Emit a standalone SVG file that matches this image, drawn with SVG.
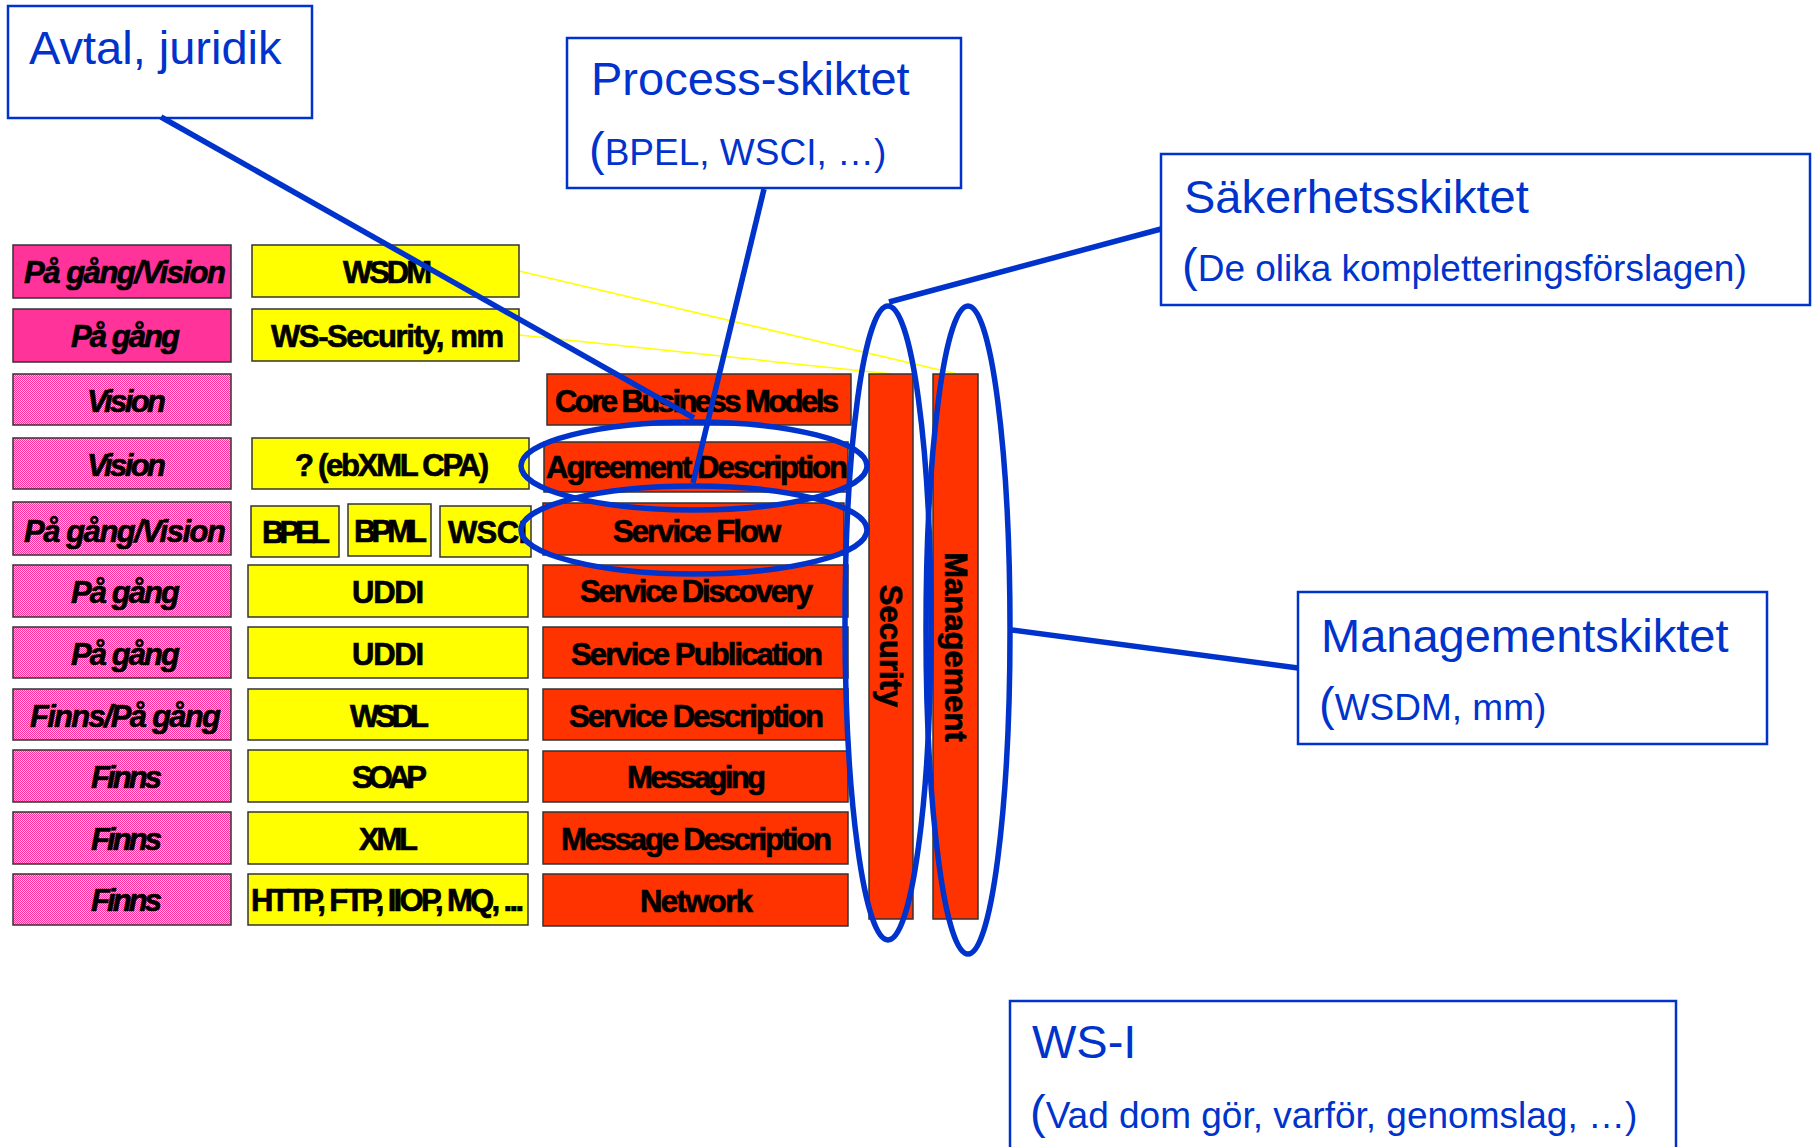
<svg xmlns="http://www.w3.org/2000/svg" width="1812" height="1147" viewBox="0 0 1812 1147">
<defs>
<pattern id="dots" width="2" height="2" patternUnits="userSpaceOnUse">
<rect width="2" height="2" fill="#FFB8DC"/>
<rect width="1" height="1" fill="#FF3399"/>
<rect x="1" y="1" width="1" height="1" fill="#FF3399"/>
</pattern>
<style>
.pk{fill:#FF3399;stroke:#333;stroke-width:1.5}
.pd{fill:url(#dots);stroke:#333;stroke-width:1.5}
.ye{fill:#FFFF00;stroke:#333;stroke-width:1.5}
.rd{fill:#FF3300;stroke:#333;stroke-width:1.5}
.lb{font-family:"Liberation Sans",Arial,sans-serif;font-weight:bold;font-size:31px;fill:#000;stroke:#000;stroke-width:0.7}
.it{font-style:italic}
.bb{fill:#fff;stroke:#0033CC;stroke-width:2.5}
.bt{font-family:"Liberation Sans",Arial,sans-serif;font-size:47px;fill:#0033CC}
.bs{font-size:37px}
.bl{fill:none;stroke:#0033CC;stroke-width:5.5}
.yl{fill:none;stroke:#FFFF00;stroke-width:1.5}
</style>
</defs>
<rect width="1812" height="1147" fill="#fff"/>

<g id="yellow-lines">
<path class="yl" d="M519,271 L957,374"/>
<path class="yl" d="M519,335 L892,374"/>
</g>

<g id="status">
<g id="s1"><rect class="pk" x="13" y="245" width="218" height="53"/><text class="lb it" x="24" y="283" textLength="202" lengthAdjust="spacing">På gång/Vision</text></g>
<g id="s2"><rect class="pk" x="13" y="309" width="218" height="53"/><text class="lb it" x="71" y="347" textLength="109" lengthAdjust="spacing">På gång</text></g>
<g id="s3"><rect class="pd" x="13" y="374" width="218" height="51"/><text class="lb it" x="87" y="412" textLength="79" lengthAdjust="spacing">Vision</text></g>
<g id="s4"><rect class="pd" x="13" y="438" width="218" height="51"/><text class="lb it" x="87" y="476" textLength="79" lengthAdjust="spacing">Vision</text></g>
<g id="s5"><rect class="pd" x="13" y="502" width="218" height="53"/><text class="lb it" x="24" y="542" textLength="202" lengthAdjust="spacing">På gång/Vision</text></g>
<g id="s6"><rect class="pd" x="13" y="565" width="218" height="52"/><text class="lb it" x="71" y="603" textLength="109" lengthAdjust="spacing">På gång</text></g>
<g id="s7"><rect class="pd" x="13" y="627" width="218" height="51"/><text class="lb it" x="71" y="665" textLength="109" lengthAdjust="spacing">På gång</text></g>
<g id="s8"><rect class="pd" x="13" y="689" width="218" height="51"/><text class="lb it" x="30" y="727" textLength="191" lengthAdjust="spacing">Finns/På gång</text></g>
<g id="s9"><rect class="pd" x="13" y="750" width="218" height="52"/><text class="lb it" x="91" y="788" textLength="71" lengthAdjust="spacing">Finns</text></g>
<g id="s10"><rect class="pd" x="13" y="812" width="218" height="52"/><text class="lb it" x="91" y="850" textLength="71" lengthAdjust="spacing">Finns</text></g>
<g id="s11"><rect class="pd" x="13" y="874" width="218" height="51"/><text class="lb it" x="91" y="911" textLength="71" lengthAdjust="spacing">Finns</text></g>
</g>

<g id="standards">
<g id="wsdm"><rect class="ye" x="252" y="245" width="267" height="52"/><text class="lb" x="343" y="283" textLength="89" lengthAdjust="spacing">WSDM</text></g>
<g id="wssec"><rect class="ye" x="252" y="309" width="267" height="52"/><text class="lb" x="271" y="347" textLength="233" lengthAdjust="spacing">WS-Security, mm</text></g>
<g id="ebxml"><rect class="ye" x="252" y="438" width="277" height="51"/><text class="lb" x="295" y="476" textLength="194" lengthAdjust="spacing">? (ebXML CPA)</text></g>
<g id="bpel"><rect class="ye" x="251" y="506" width="88" height="51"/><text class="lb" x="262" y="543" textLength="68" lengthAdjust="spacing">BPEL</text></g>
<g id="bpml"><rect class="ye" x="348" y="504" width="83" height="52"/><text class="lb" x="354" y="542" textLength="73" lengthAdjust="spacing">BPML</text></g>
<g id="wsci"><rect class="ye" x="440" y="506" width="91" height="51"/><text class="lb" x="448" y="543" textLength="79" lengthAdjust="spacing">WSCI</text></g>
<g id="uddi1"><rect class="ye" x="248" y="565" width="280" height="52"/><text class="lb" x="352" y="603" textLength="72" lengthAdjust="spacing">UDDI</text></g>
<g id="uddi2"><rect class="ye" x="248" y="627" width="280" height="51"/><text class="lb" x="352" y="665" textLength="72" lengthAdjust="spacing">UDDI</text></g>
<g id="wsdl"><rect class="ye" x="248" y="689" width="280" height="51"/><text class="lb" x="350" y="727" textLength="79" lengthAdjust="spacing">WSDL</text></g>
<g id="soap"><rect class="ye" x="248" y="750" width="280" height="52"/><text class="lb" x="352" y="788" textLength="75" lengthAdjust="spacing">SOAP</text></g>
<g id="xml"><rect class="ye" x="248" y="812" width="280" height="52"/><text class="lb" x="359" y="850" textLength="59" lengthAdjust="spacing">XML</text></g>
<g id="http"><rect class="ye" x="248" y="874" width="280" height="51"/><text class="lb" x="251" y="911" font-size="29" textLength="273" lengthAdjust="spacing">HTTP, FTP, IIOP, MQ, ...</text></g>
</g>

<g id="layers">
<g id="core"><rect class="rd" x="547" y="374" width="304" height="51"/><text class="lb" x="555" y="412" textLength="284" lengthAdjust="spacing">Core Business Models</text></g>
<g id="agreement"><rect class="rd" x="544" y="442" width="304" height="50"/><text class="lb" x="546" y="478" textLength="302" lengthAdjust="spacing">Agreement Description</text></g>
<g id="flow"><rect class="rd" x="543" y="503" width="301" height="52"/><text class="lb" x="613" y="542" textLength="168" lengthAdjust="spacing">Service Flow</text></g>
<g id="discovery"><rect class="rd" x="543" y="565" width="305" height="52"/><text class="lb" x="580" y="602" textLength="233" lengthAdjust="spacing">Service Discovery</text></g>
<g id="publication"><rect class="rd" x="543" y="627" width="305" height="51"/><text class="lb" x="571" y="665" textLength="252" lengthAdjust="spacing">Service Publication</text></g>
<g id="description"><rect class="rd" x="543" y="689" width="305" height="51"/><text class="lb" x="569" y="727" textLength="255" lengthAdjust="spacing">Service Description</text></g>
<g id="messaging"><rect class="rd" x="543" y="751" width="305" height="51"/><text class="lb" x="627" y="788" textLength="139" lengthAdjust="spacing">Messaging</text></g>
<g id="msgdesc"><rect class="rd" x="543" y="812" width="305" height="52"/><text class="lb" x="561" y="850" textLength="271" lengthAdjust="spacing">Message Description</text></g>
<g id="network"><rect class="rd" x="543" y="874" width="305" height="52"/><text class="lb" x="640" y="912" textLength="113" lengthAdjust="spacing">Network</text></g>
<g id="security"><rect class="rd" x="869" y="374" width="44" height="545"/><text class="lb" text-anchor="middle" transform="translate(880,646) rotate(90)">Security</text></g>
<g id="management"><rect class="rd" x="933" y="374" width="45" height="545"/><text class="lb" text-anchor="middle" transform="translate(945,647) rotate(90)">Management</text></g>
</g>

<g id="avtal"><rect class="bb" x="8" y="6" width="304" height="112"/><text class="bt" x="29" y="64">Avtal, juridik</text></g>
<g id="process"><rect class="bb" x="567" y="38" width="394" height="150"/><text class="bt" x="591" y="95">Process-skiktet</text><text class="bt" x="589" y="165">(<tspan class="bs">BPEL, WSCI, …)</tspan></text></g>
<g id="sakerhet"><rect class="bb" x="1161" y="154" width="649" height="151"/><text class="bt" x="1184" y="213">Säkerhetsskiktet</text><text class="bt" x="1182" y="281">(<tspan class="bs">De olika kompletteringsförslagen)</tspan></text></g>
<g id="managementskiktet"><rect class="bb" x="1298" y="592" width="469" height="152"/><text class="bt" x="1321" y="652">Managementskiktet</text><text class="bt" x="1319" y="720">(<tspan class="bs">WSDM, mm)</tspan></text></g>
<g id="wsi"><rect class="bb" x="1010" y="1001" width="666" height="160"/><text class="bt" x="1032" y="1058">WS-I</text><text class="bt" x="1030" y="1128">(<tspan class="bs">Vad dom gör, varför, genomslag, …)</tspan></text></g>

<g id="connectors">
<path class="bl" d="M161,117 L694,418"/>
<path class="bl" d="M764,189 L693,483"/>
<path class="bl" d="M889,302 L1161,229"/>
<path class="bl" d="M1012,630 L1298,668"/>
<ellipse class="bl" cx="694" cy="466" rx="173" ry="44"/>
<ellipse class="bl" cx="694" cy="530" rx="173" ry="44"/>
<ellipse class="bl" cx="888" cy="623" rx="43" ry="317"/>
<ellipse class="bl" cx="968" cy="630" rx="42" ry="324"/>
</g>
</svg>
